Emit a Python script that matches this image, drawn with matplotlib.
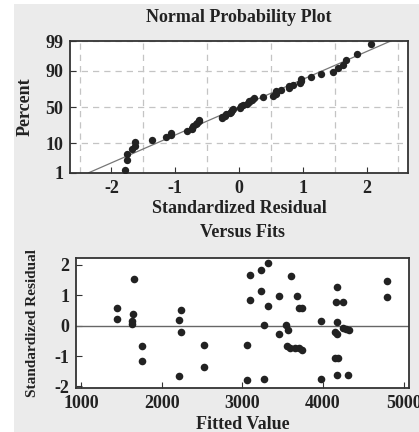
import numpy as np
import matplotlib
matplotlib.use("Agg")
import matplotlib.pyplot as plt
from matplotlib.patches import Rectangle
from statistics import NormalDist

plt.rcParams['axes.unicode_minus'] = False

# fitted values and standardized residuals
fits = [1449, 1449, 1654, 1644, 1628, 1628, 1761, 1761,
        2235, 2214, 2235, 2214, 2523, 2523,
        3053, 3053, 3091, 3091, 3230, 3321, 3230, 3313, 3272, 3272,
        3457, 3457, 3547, 3567, 3550, 3595, 3605, 3675, 3704, 3737,
        3655, 3700, 3737, 3970, 3970,
        4175, 4160, 4247, 4173, 4150, 4168, 4150, 4180, 4169,
        4247, 4285, 4318, 4313, 4797, 4797]
resid = [0.58, 0.23, 1.55, 0.38, 0.16, 0.07, -0.66, -1.15,
         0.53, 0.20, -0.22, -1.67, -0.62, -1.37,
         -0.62, -1.79, 1.68, 0.84, 1.85, 2.07, 1.13, 0.66, 0.02, -1.75,
         0.97, -0.27, 0.03, -0.13, -0.68, -0.74, 1.63, 0.97, 0.58, 0.58,
         -0.72, -0.74, -0.81, 0.15, -1.76,
         1.29, 0.79, 0.79, 0.12, -0.21, -0.27, -1.07, -1.07, -1.63,
         -0.09, -0.11, -0.14, -1.63, 1.47, 0.96]

prob_ticks = [1, 10, 50, 90, 99]
nd = NormalDist()

fig = plt.figure(figsize=(4.19, 4.32), dpi=100)
fig.patch.set_facecolor("white")
fig.patches.append(Rectangle((14 / 419, 0), 1, 1 - 4 / 432, transform=fig.transFigure,
                             facecolor="#ebebeb", edgecolor="none", zorder=-10))

font = dict(family="Liberation Serif", weight="bold", color="#222222")
dark = "#222222"

# NORMAL PROBABILITY PLOT
ax1 = fig.add_axes([70 / 419, 1 - 173 / 432, 338 / 419, 132 / 432])
r = np.sort(np.array(resid))
n = len(r)
pct = (np.arange(1, n + 1) - 0.3) / (n + 0.4)  # median ranks
zq = np.array([nd.inv_cdf(p) for p in pct])
mu, sd = r.mean(), r.std(ddof=1)
zlim = nd.inv_cdf(0.01), nd.inv_cdf(0.99)
ax1.plot([mu + sd * zlim[0], mu + sd * zlim[1]], zlim, color="#777777", lw=0.9, zorder=2)
ax1.scatter(r, zq, s=28, color=dark, zorder=3, linewidths=0)
ax1.set_xlim(-2.65, 2.65)
ax1.set_ylim(zlim[0] - 0.01, zlim[1] + 0.01)
ax1.set_xticks([-2, -1, 0, 1, 2])
ax1.set_xticks(np.arange(-2.5, 2.6, 0.5), minor=True)
ax1.set_yticks([nd.inv_cdf(p / 100) for p in prob_ticks])
ax1.set_yticklabels([str(p) for p in prob_ticks])
ax1.grid(True, which="minor", axis="x", color="#c4c4c4", ls=(0, (5, 4)), lw=0.9)
ax1.grid(True, which="major", axis="y", color="#c4c4c4", ls=(0, (5, 4)), lw=0.9)
ax1.tick_params(which="minor", length=0)
ax1.tick_params(which="major", direction="in", length=4, color="#333333", pad=5)
ax1.set_title("Normal Probability Plot", fontsize=13, pad=14, **font)
ax1.set_xlabel("Standardized Residual", fontsize=13, labelpad=2, **font)
ax1.set_ylabel("Percent", fontsize=13, labelpad=8, **font)

# VERSUS FITS
ax2 = fig.add_axes([76 / 419, 1 - 388 / 432, 333 / 419, 130 / 432])
ax2.axhline(0, color="#666666", lw=1.0, zorder=2)
ax2.scatter(fits, resid, s=30, color=dark, zorder=3, linewidths=0)
ax2.set_xlim(938, 5066)
ax2.set_ylim(-2.05, 2.23)
ax2.set_xticks([1000, 2000, 3000, 4000, 5000])
ax2.set_yticks([-2, -1, 0, 1, 2])
ax2.tick_params(direction="in", length=4, color="#333333", pad=5)
ax2.set_title("Versus Fits", fontsize=13, pad=15, **font)
ax2.set_xlabel("Fitted Value", fontsize=13, labelpad=3, **font)
ax2.set_ylabel("Standardized Residual", fontsize=11, labelpad=11, **font)

for ax in (ax1, ax2):
    ax.set_facecolor("white")
    for sp in ax.spines.values():
        sp.set_color("#333333")
        sp.set_linewidth(1.3)
    for lab in ax.get_xticklabels() + ax.get_yticklabels():
        lab.set_fontfamily("Liberation Serif")
        lab.set_fontweight("bold")
        lab.set_fontsize(13)
        lab.set_color("#222222")

fig.savefig("out.png", dpi=100, facecolor=fig.get_facecolor())
